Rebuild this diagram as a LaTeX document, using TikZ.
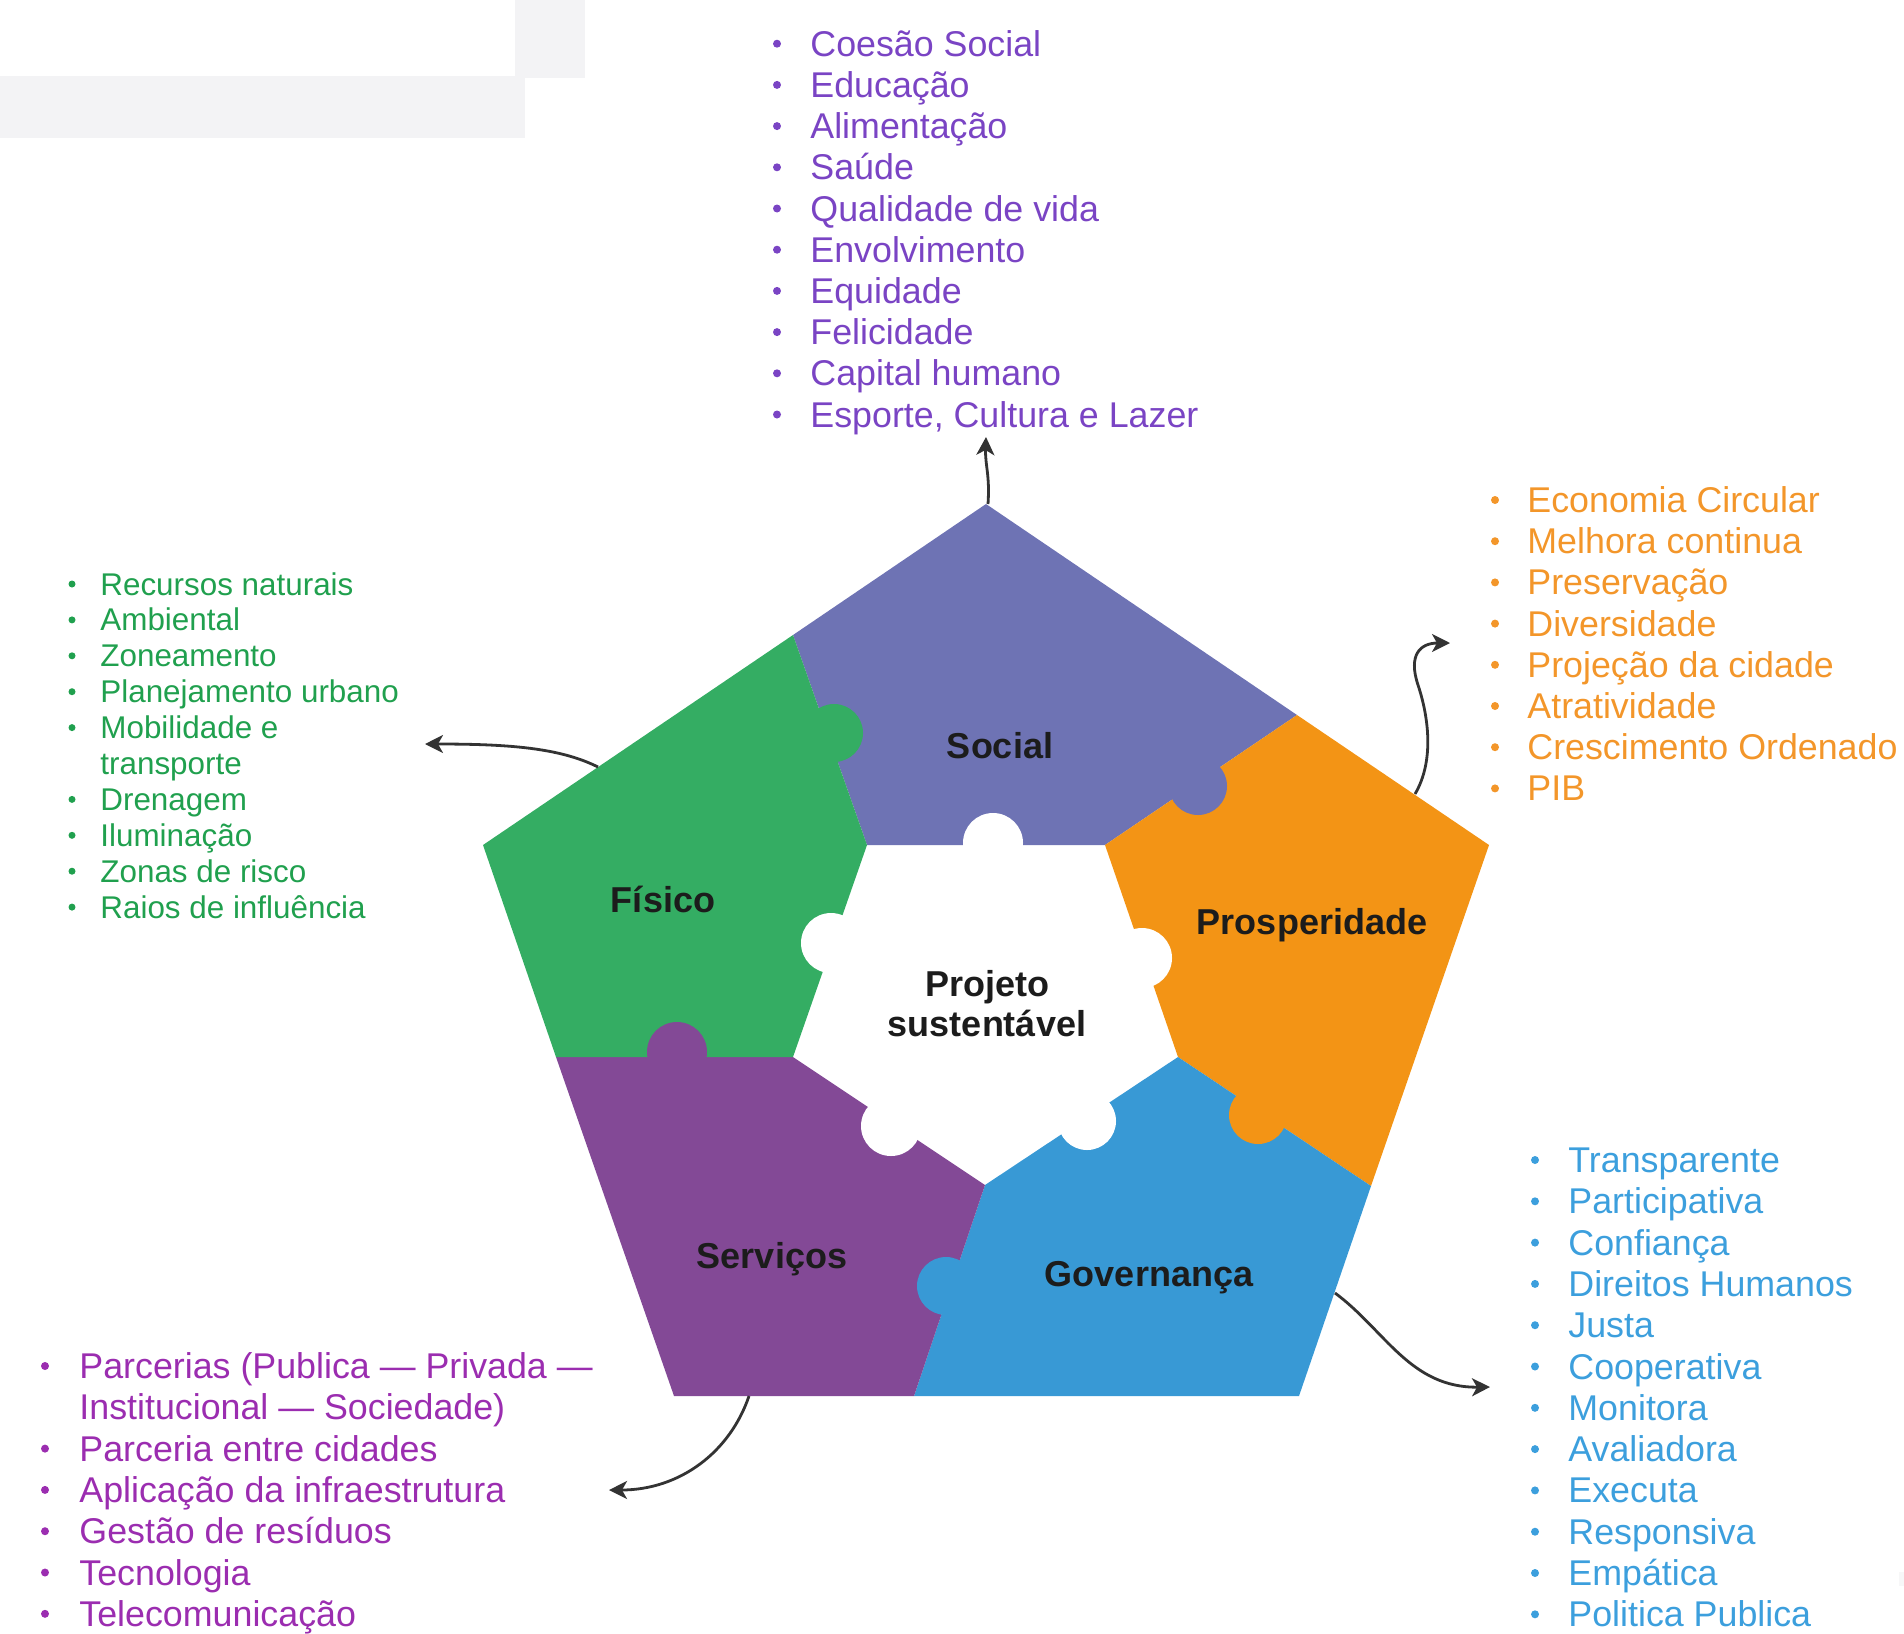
\documentclass[tikz,border=0pt]{standalone}
\usepackage{fontspec}
\setmainfont{Liberation Sans}
\usetikzlibrary{arrows.meta}
\definecolor{cSocial}{HTML}{6E73B4}
\definecolor{cFisico}{HTML}{34AD63}
\definecolor{cProsp}{HTML}{F39415}
\definecolor{cGov}{HTML}{3899D5}
\definecolor{cServ}{HTML}{834996}
\definecolor{cSocT}{HTML}{7A44C4}
\definecolor{cFisT}{HTML}{20A04E}
\definecolor{cProT}{HTML}{F3962A}
\definecolor{cGovT}{HTML}{3C9FDD}
\definecolor{cSerT}{HTML}{9B2DB0}
\definecolor{labeltext}{HTML}{1C1C1C}
\definecolor{arrowgray}{HTML}{333333}
\definecolor{faint}{HTML}{F3F3F5}
\newcommand{\bigfont}{\fontsize{17.9pt}{21pt}\selectfont}
\newcommand{\smallfont}{\fontsize{15.7pt}{18pt}\selectfont}
\tikzset{
  piece/.style={draw=none},
  lbl/.style={font=\bfseries\fontsize{18pt}{21pt}\selectfont, text=labeltext, inner sep=0pt, text height=0.72em, text depth=0pt},
  item/.style={anchor=base west, inner sep=0pt},
  dotb/.style={circle, inner sep=0pt, minimum size=4pt, draw=none},
  arr/.style={draw=arrowgray, line width=1.4pt, -{Stealth[length=9pt,width=9pt,inset=2.5pt]}}
}
\begin{document}
\begin{tikzpicture}[x=0.5pt,y=-0.5pt]
\useasboundingbox (0,0) rectangle (1904,1633);
% faint background artifact
\fill[faint] (0,76) rectangle (525,138);
\fill[faint] (515,0) rectangle (585,78);
\fill[faint!70] (1899,1572) rectangle (1904,1586);

% pieces
\fill[cSocial] (986,504) -- (1297,715) -- (1105,845) -- (867,845) -- (793,635) -- cycle;
\fill[cProsp] (1297,715) -- (1489,845) -- (1371,1186) -- (1178,1057) -- (1105,845) -- cycle;
\fill[cGov] (1178,1057) -- (1371,1186) -- (1299,1396) -- (914,1396) -- (985,1185) -- cycle;
\fill[cServ] (985,1185) -- (914,1396) -- (674,1396) -- (556,1057) -- (793,1057) -- cycle;
\fill[cFisico] (793,1057) -- (556,1057) -- (483,845) -- (793,635) -- (867,845) -- cycle;

% coloured knobs
\fill[cFisico] (834,733) circle[radius=14.5pt];
\fill[cSocial] (1198,786) circle[radius=14.5pt];
\fill[cProsp] (1258,1115) circle[radius=14.5pt];
\fill[cGov] (946,1286) circle[radius=14.5pt];
\fill[cServ] (677,1052) circle[radius=15pt];
% white knobs of the centre piece
\fill[white] (993,843) circle[radius=15pt];
\fill[white] (831,943) circle[radius=15pt];
\fill[white] (1142,958) circle[radius=15pt];
\fill[white] (891,1126) circle[radius=15pt];
\fill[white] (1087,1121) circle[radius=14.5pt];

% piece labels
\node[lbl] (lSocial) at (1000,751) {Social};
\node[lbl] (lFisico) at (663,905) {Físico};
\node[lbl] (lProsp) at (1312,927) {Prosperidade};
\node[lbl] (lProj1) at (987,989) {Projeto};
\node[lbl] (lProj2) at (987,1029) {sustentável};
\node[lbl] (lServ) at (772,1261) {Serviços};
\node[lbl] (lGov) at (1149,1279) {Governança};

% Social list
\foreach \t [count=\i from 0] in {Coesão Social, Educação, Alimentação, Saúde, Qualidade de vida, Envolvimento, Equidade, Felicidade, Capital humano, {Esporte, Cultura e Lazer}}{
  \pgfmathsetmacro\yy{43.7+41.2*\i}
  \node[dotb, fill=cSocT] (sb\i) at (777,\yy) {};
  \node[item, text=cSocT, font=\bigfont] (st\i) at (810,\yy+12.5) {\t};
}
% Prosperidade list
\foreach \t [count=\i from 0] in {Economia Circular, Melhora continua, Preservação, Diversidade, Projeção da cidade, Atratividade, Crescimento Ordenado, PIB}{
  \pgfmathsetmacro\yy{500+41.2*\i}
  \node[dotb, fill=cProT] (pb\i) at (1495,\yy) {};
  \node[item, text=cProT, font=\bigfont] (pt\i) at (1527,\yy+12.5) {\t};
}
% Governanca list
\foreach \t [count=\i from 0] in {Transparente, Participativa, Confiança, Direitos Humanos, Justa, Cooperativa, Monitora, Avaliadora, Executa, Responsiva, Empática, Politica Publica}{
  \pgfmathsetmacro\yy{1160+41.3*\i}
  \node[dotb, fill=cGovT] (gb\i) at (1535,\yy) {};
  \node[item, text=cGovT, font=\bigfont] (gt\i) at (1568,\yy+12.5) {\t};
}
% Fisico list
\foreach \t/\b [count=\i from 0] in {Recursos naturais/1, Ambiental/1, Zoneamento/1, Planejamento urbano/1, Mobilidade e/1, transporte/0, Drenagem/1, Iluminação/1, Zonas de risco/1, Raios de influência/1}{
  \pgfmathsetmacro\yy{584+35.9*\i}
  \ifnum\b=1 \node[dotb, minimum size=3.5pt, fill=cFisT] (fb\i) at (72,\yy) {};\fi
  \node[item, text=cFisT, font=\smallfont] (ft\i) at (100,\yy+11) {\t};
}
% Servicos list
\foreach \t/\b [count=\i from 0] in {Parcerias (Publica — Privada —/1, Institucional — Sociedade)/0, Parceria entre cidades/1, Aplicação da infraestrutura/1, Gestão de resíduos/1, Tecnologia/1, Telecomunicação/1}{
  \pgfmathsetmacro\yy{1366+41.3*\i}
  \ifnum\b=1 \node[dotb, fill=cSerT] (vb\i) at (45,\yy) {};\fi
  \node[item, text=cSerT, font=\bigfont] (vt\i) at (79,\yy+12.5) {\t};
}

% connector end points
\coordinate (aSo0) at (988,504);
\coordinate (aSo1) at (986,437);
\coordinate (aPr0) at (1415,794);
\coordinate (aPr1) at (1450,643);
\coordinate (aGo0) at (1335,1293);
\coordinate (aGo1) at (1490,1387);
\coordinate (aSe0) at (749,1396);
\coordinate (aSe1) at (609,1490);
\coordinate (aFi0) at (598,767);
\coordinate (aFi1) at (425,744);

\draw[arr] (aSo0) .. controls (990,475) and (985,465) .. (aSo1);
\draw[arr] (aPr0) .. controls (1435,760) and (1428,715) .. (1418,685) .. controls (1408,655) and (1420,643) .. (aPr1);
\draw[arr] (aGo0) .. controls (1385,1330) and (1410,1388) .. (aGo1);
\draw[arr] (aSe0) .. controls (730,1452) and (680,1490) .. (aSe1);
\draw[arr] (aFi0) .. controls (560,748) and (510,744) .. (aFi1);
\end{tikzpicture}
\end{document}
